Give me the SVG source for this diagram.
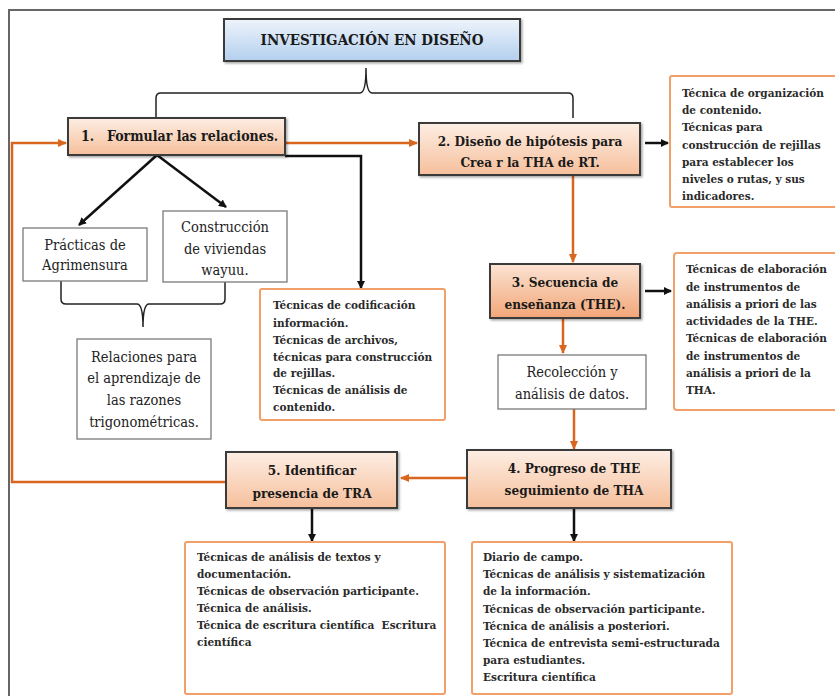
<svg xmlns="http://www.w3.org/2000/svg" width="835" height="696" viewBox="0 0 835 696">
<defs>
  <linearGradient id="gBlue" x1="0" y1="0" x2="0" y2="1">
    <stop offset="0" stop-color="#eef4fb"/>
    <stop offset="1" stop-color="#b3cfee"/>
  </linearGradient>
  <linearGradient id="gPeach" x1="0" y1="0" x2="0" y2="1">
    <stop offset="0" stop-color="#fdeee4"/>
    <stop offset="1" stop-color="#f6bf9b"/>
  </linearGradient>
  <linearGradient id="gPeach3" x1="0" y1="0" x2="0" y2="1">
    <stop offset="0" stop-color="#fbe3d3"/>
    <stop offset="1" stop-color="#f2a677"/>
  </linearGradient>
  <marker id="aB" markerWidth="8" markerHeight="8" refX="7" refY="4" orient="auto" markerUnits="userSpaceOnUse">
    <path d="M0,0 L8,4 L0,8 z" fill="#111"/>
  </marker>
  <marker id="aO" markerWidth="9" markerHeight="8" refX="8" refY="4" orient="auto" markerUnits="userSpaceOnUse">
    <path d="M0,0 L9,4 L0,8 z" fill="#d9661f"/>
  </marker>
  <filter id="sh" x="-10%" y="-10%" width="130%" height="140%">
    <feDropShadow dx="1.5" dy="1.5" stdDeviation="1" flood-color="#000" flood-opacity="0.35"/>
  </filter>
</defs>
<style>
  .head{font-family:"DejaVu Serif Condensed","DejaVu Serif",serif;font-stretch:condensed;font-weight:bold;font-size:13.5px;fill:#1a1a1a;text-anchor:middle}
  .ttl{font-size:15px}
  .headL{font-family:"DejaVu Serif Condensed","DejaVu Serif",serif;font-stretch:condensed;font-weight:bold;font-size:14px;fill:#1a1a1a;text-anchor:start}
  .plain{font-family:"DejaVu Serif Condensed","DejaVu Serif",serif;font-stretch:condensed;font-size:14.5px;fill:#222;text-anchor:middle}
  .desc{font-family:"DejaVu Serif Condensed","DejaVu Serif",serif;font-stretch:condensed;font-weight:bold;font-size:11.7px;fill:#2a2a2a}
  .main{stroke:#3a3a3a;stroke-width:2}
  .gray{fill:#fff;stroke:#7a7a7a;stroke-width:1.3}
  .obox{fill:#fff;stroke:#f2a06a;stroke-width:2}
  .ob{fill:none;stroke:#d9661f;stroke-width:2.5}
  .bk{fill:none;stroke:#111;stroke-width:2.5}
  .br{fill:none;stroke:#222;stroke-width:1.5}
</style>
<rect x="0" y="0" width="835" height="696" fill="#fff"/>
<rect x="9" y="10" width="840" height="700" fill="none" stroke="#666" stroke-width="2"/>

<g id="connectors">
  <path class="br" d="M156,118 V98 Q156,93 161,93 H360 Q366,93 366,68 Q366,93 372,93 H568 Q573,93 573,98 V118"/>
  <path class="br" d="M61,281 V299 Q61,304 66,304 H137 Q143,304 143,327 Q143,304 149,304 H220 Q225,304 225,299 V281"/>
  <path class="ob" d="M285,143 H417" marker-end="url(#aO)"/>
  <path class="ob" d="M226,482 H12 V143 H66" marker-end="url(#aO)"/>
  <path class="bk" d="M285,156 H361 V288" marker-end="url(#aB)"/>
  <path class="bk" d="M157,155 L79,225" marker-end="url(#aB)"/>
  <path class="bk" d="M157,155 L226,207" marker-end="url(#aB)"/>
  <path class="bk" d="M645,143 H668" marker-end="url(#aB)"/>
  <path class="ob" d="M573,175 V262" marker-end="url(#aO)"/>
  <path class="bk" d="M645,291 H671" marker-end="url(#aB)"/>
  <path class="ob" d="M563,318 V353" marker-end="url(#aO)"/>
  <path class="ob" d="M574,409 V449" marker-end="url(#aO)"/>
  <path class="ob" d="M467,478 H401" marker-end="url(#aO)"/>
  <path class="bk" d="M312,508 V541" marker-end="url(#aB)"/>
  <path class="bk" d="M574,508 V541" marker-end="url(#aB)"/>
</g>

<g id="title">
  <rect x="224" y="19" width="296" height="42" fill="url(#gBlue)" class="main" filter="url(#sh)"/>
  <text class="head ttl" x="372" y="45">INVESTIGACIÓN EN DISEÑO</text>
</g>

<g id="n1">
  <rect x="68" y="118" width="217" height="37" fill="url(#gPeach)" class="main" filter="url(#sh)"/>
  <text class="headL" x="81" y="141">1.</text>
  <text class="headL" x="107" y="141">Formular las relaciones.</text>
</g>

<g id="n2">
  <rect x="419" y="123" width="221" height="52" fill="url(#gPeach)" class="main" filter="url(#sh)"/>
  <text class="head" x="530" y="146">2. Diseño de hipótesis para</text>
  <text class="head" x="530" y="167">Crea r la THA de RT.</text>
</g>

<g id="d2">
  <rect x="670" y="76" width="175" height="131" rx="2" class="obox"/>
  <text class="desc" x="682" y="97">Técnica de organización</text>
  <text class="desc" x="682" y="114">de contenido.</text>
  <text class="desc" x="682" y="131">Técnicas para</text>
  <text class="desc" x="682" y="149">construcción de rejillas</text>
  <text class="desc" x="682" y="166">para establecer los</text>
  <text class="desc" x="682" y="183">niveles o rutas, y sus</text>
  <text class="desc" x="682" y="200">indicadores.</text>
</g>

<g id="practicas">
  <rect x="23" y="228" width="124" height="53" class="gray"/>
  <text class="plain" x="85" y="250">Prácticas de</text>
  <text class="plain" x="85" y="270">Agrimensura</text>
</g>

<g id="construccion">
  <rect x="163" y="211" width="124" height="71" class="gray"/>
  <text class="plain" x="225" y="232">Construcción</text>
  <text class="plain" x="225" y="254">de viviendas</text>
  <text class="plain" x="225" y="275">wayuu.</text>
</g>

<g id="relaciones">
  <rect x="77" y="339" width="134" height="100" class="gray"/>
  <text class="plain" x="144" y="362">Relaciones para</text>
  <text class="plain" x="144" y="383">el aprendizaje de</text>
  <text class="plain" x="144" y="405">las razones</text>
  <text class="plain" x="144" y="427">trigonométricas.</text>
</g>

<g id="d1">
  <rect x="260" y="289" width="185" height="131" rx="2" class="obox"/>
  <text class="desc" x="273" y="309">Técnicas de codificación</text>
  <text class="desc" x="273" y="327">información.</text>
  <text class="desc" x="273" y="344">Técnicas de archivos,</text>
  <text class="desc" x="273" y="361">técnicas para construcción</text>
  <text class="desc" x="273" y="377">de rejillas.</text>
  <text class="desc" x="273" y="394">Técnicas de análisis de</text>
  <text class="desc" x="273" y="411">contenido.</text>
</g>

<g id="n3">
  <rect x="490" y="264" width="150" height="54" fill="url(#gPeach3)" class="main" filter="url(#sh)"/>
  <text class="head" x="565" y="287">3. Secuencia de</text>
  <text class="head" x="565" y="309">enseñanza (THE).</text>
</g>

<g id="d3">
  <rect x="674" y="253" width="170" height="157" rx="3" class="obox"/>
  <text class="desc" x="686" y="273">Técnicas de elaboración</text>
  <text class="desc" x="686" y="291">de instrumentos de</text>
  <text class="desc" x="686" y="308">análisis a priori de las</text>
  <text class="desc" x="686" y="325">actividades de la THE.</text>
  <text class="desc" x="686" y="342">Técnicas de elaboración</text>
  <text class="desc" x="686" y="360">de instrumentos de</text>
  <text class="desc" x="686" y="377">análisis a priori de la</text>
  <text class="desc" x="686" y="394">THA.</text>
</g>

<g id="recoleccion">
  <rect x="498" y="355" width="148" height="54" class="gray"/>
  <text class="plain" x="572" y="377">Recolección y</text>
  <text class="plain" x="572" y="399">análisis de datos.</text>
</g>

<g id="n4">
  <rect x="467" y="450" width="204" height="58" fill="url(#gPeach)" class="main" filter="url(#sh)"/>
  <text class="head" x="574" y="473">4. Progreso de THE</text>
  <text class="head" x="574" y="495">seguimiento de THA</text>
</g>

<g id="n5">
  <rect x="226" y="452" width="171" height="56" fill="url(#gPeach)" class="main" filter="url(#sh)"/>
  <text class="head" x="312" y="475">5. Identificar</text>
  <text class="head" x="312" y="498">presencia de TRA</text>
</g>

<g id="d5">
  <rect x="185" y="542" width="260" height="152" rx="2" class="obox"/>
  <text class="desc" x="197" y="561">Técnicas de análisis de textos y</text>
  <text class="desc" x="197" y="578">documentación.</text>
  <text class="desc" x="197" y="595">Técnicas de observación participante.</text>
  <text class="desc" x="197" y="612">Técnica de análisis.</text>
  <text class="desc" x="197" y="629" xml:space="preserve">Técnica de escritura científica  Escritura</text>
  <text class="desc" x="197" y="646">científica</text>
</g>

<g id="d4">
  <rect x="472" y="542" width="260" height="152" rx="2" class="obox"/>
  <text class="desc" x="483" y="561">Diario de campo.</text>
  <text class="desc" x="483" y="578">Técnicas de análisis y sistematización</text>
  <text class="desc" x="483" y="595">de la información.</text>
  <text class="desc" x="483" y="613">Técnicas de observación participante.</text>
  <text class="desc" x="483" y="630">Técnica de análisis a posteriori.</text>
  <text class="desc" x="483" y="647">Técnica de entrevista semi-estructurada</text>
  <text class="desc" x="483" y="664">para estudiantes.</text>
  <text class="desc" x="483" y="681">Escritura científica</text>
</g>
</svg>
